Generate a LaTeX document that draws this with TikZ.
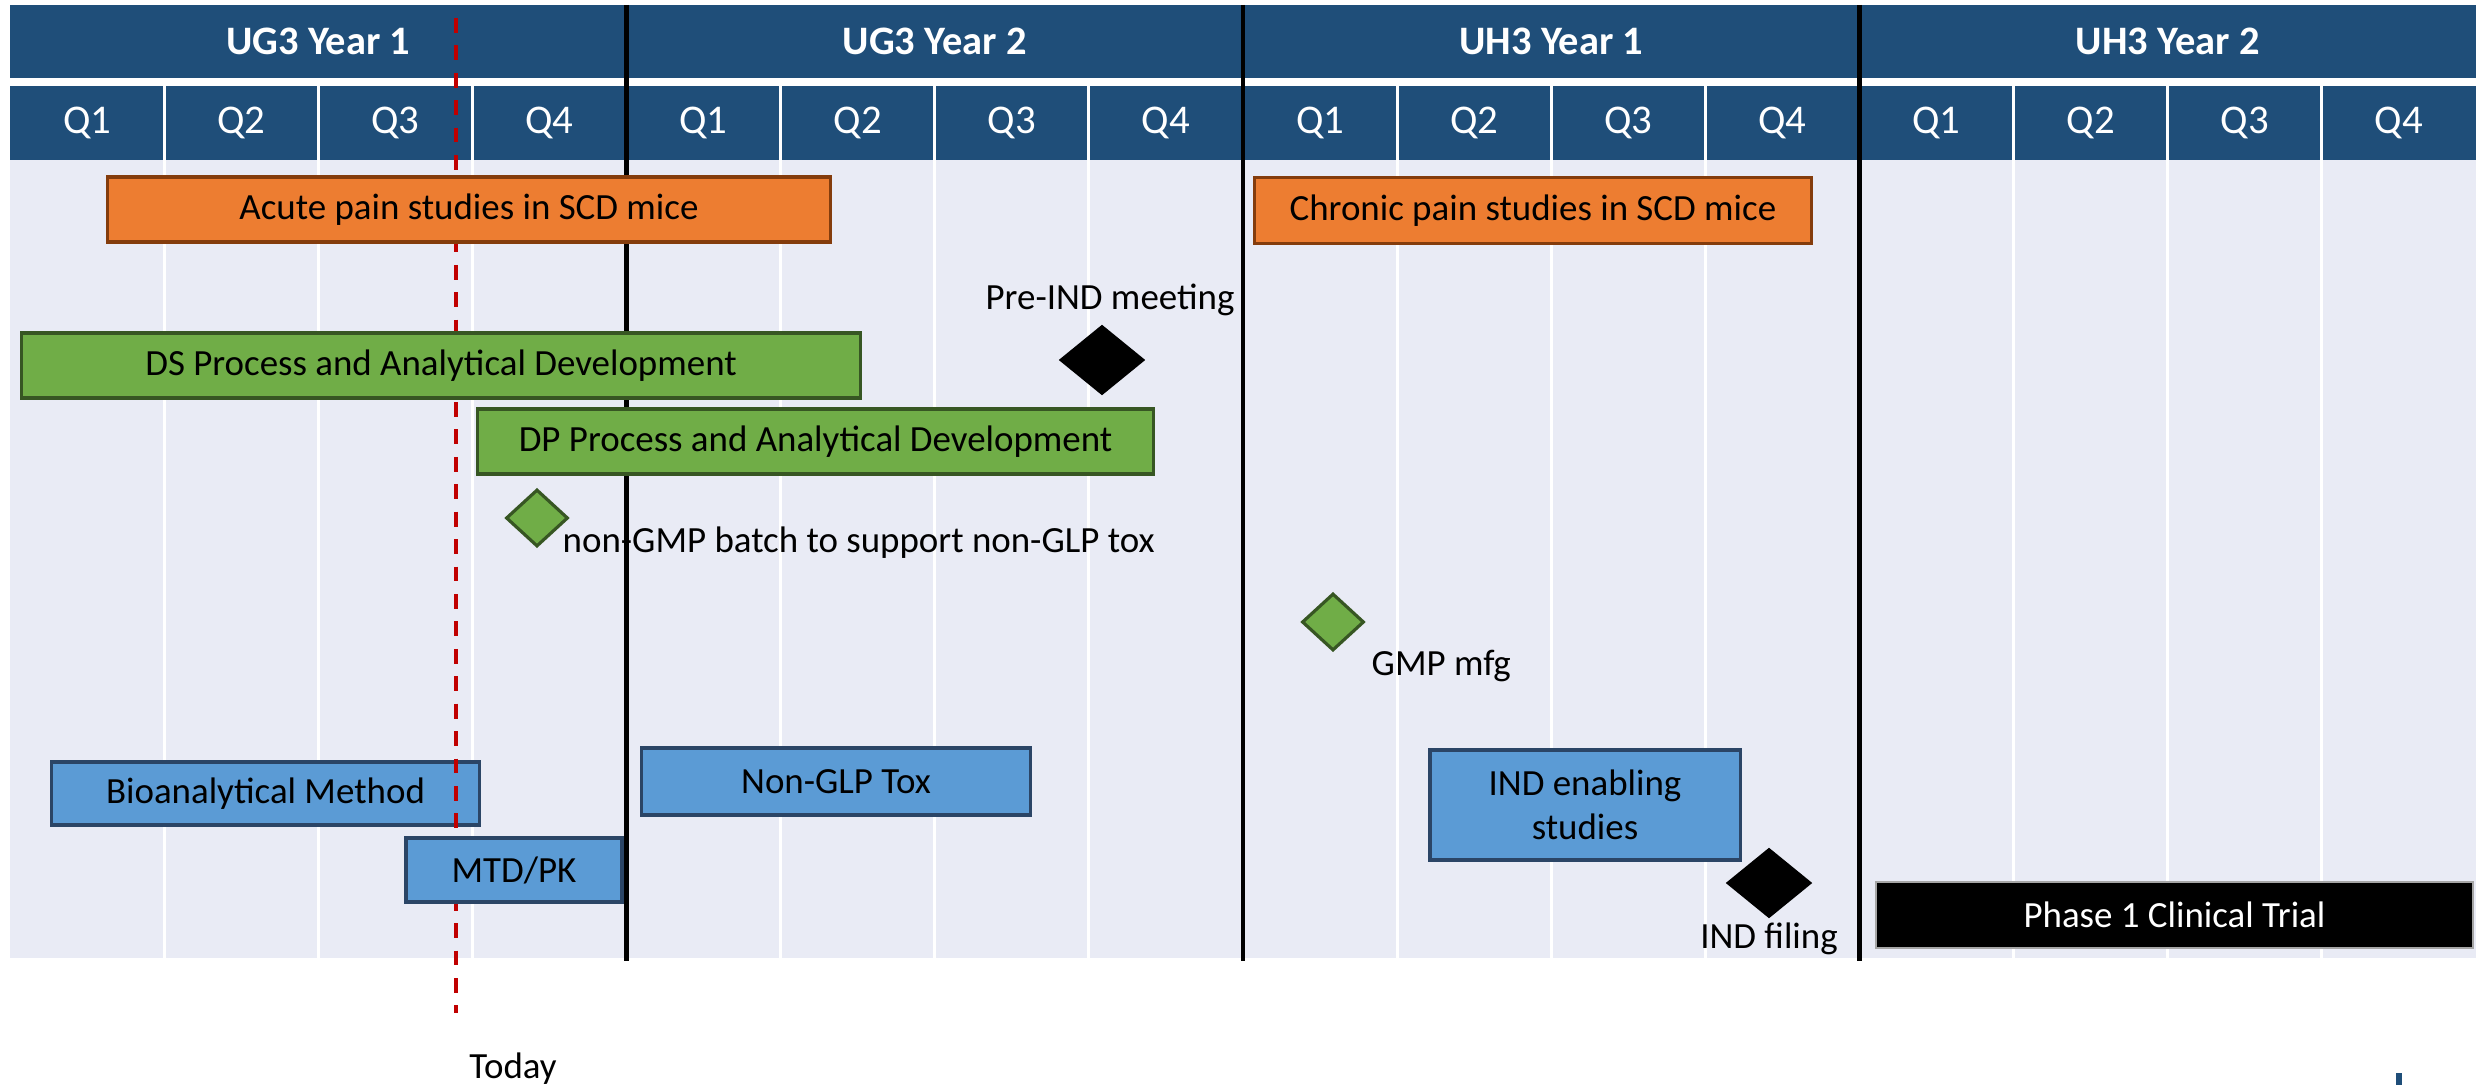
\documentclass[tikz,border=0pt]{standalone}
\usepackage{fontspec}
\setmainfont{Carlito}
\usetikzlibrary{shapes.geometric}

\definecolor{hdrblue}{HTML}{1F4E79}
\definecolor{chartbg}{HTML}{E9EBF5}
\definecolor{barorange}{HTML}{ED7D31}
\definecolor{barorangeedge}{HTML}{843C0C}
\definecolor{bargreen}{HTML}{70AD47}
\definecolor{bargreenedge}{HTML}{375623}
\definecolor{barblue}{HTML}{5B9BD5}
\definecolor{barblueedge}{HTML}{2B4566}
\definecolor{todayred}{HTML}{C00000}

\begin{document}
\begin{tikzpicture}[x=0.01cm,y=-0.01cm,
    every node/.style={font=\fontsize{10.5}{12.6}\selectfont},
    hdr/.style={text=white,font=\fontsize{11.5}{13.8}\selectfont\bfseries},
    qtr/.style={text=white,font=\fontsize{11.6}{13.9}\selectfont},
    bar/.style={draw,line width=0.9pt,inner sep=0pt,align=center},
    orangebar/.style={bar,fill=barorange,draw=barorangeedge},
    greenbar/.style={bar,fill=bargreen,draw=bargreenedge},
    bluebar/.style={bar,fill=barblue,draw=barblueedge},
    blackbar/.style={bar,fill=black,draw=black!35,line width=0.6pt,text=white},
    milestone/.style={diamond,inner sep=0pt,fill=black,minimum width=0.87cm,minimum height=0.71cm},
    gmilestone/.style={diamond,inner sep=0pt,fill=bargreen,draw=bargreenedge,line width=0.9pt,minimum width=0.62cm,minimum height=0.57cm},
    yearline/.style={line width=1.4pt},
    todayline/.style={todayred,line width=1.1pt,dash pattern=on 4.2pt off 3.6pt}]
\useasboundingbox (0,0) rectangle (2484,1085);

% header and chart area
\fill[hdrblue] (10,5) rectangle (2476,78);
\fill[hdrblue] (10,86) rectangle (2476,160);
\fill[chartbg] (10,160) rectangle (2476,958);
\foreach \k in {1,...,15}
    \draw[white,line width=0.9pt] ({10+154.125*\k},86) -- ({10+154.125*\k},958);

\foreach \yr [count=\i from 0] in {UG3 Year 1,UG3 Year 2,UH3 Year 1,UH3 Year 2}
    \node[hdr] (yr\i) at ({318.25+616.5*\i},41) {\yr};
\foreach \k [evaluate=\k as \q using {int(mod(\k,4)+1)}] in {0,...,15}
    \node[qtr] (q\k) at ({87.06+154.125*\k},123) {Q\q};

\foreach \i in {1,2,3}
    \draw[yearline] ({10+616.5*\i},5) -- ({10+616.5*\i},961);

% bars
\node[bluebar,minimum width=4.27cm,minimum height=0.63cm] (bioan) at (265.5,793.5) {Bioanalytical Method};

% today
\coordinate (todaytop) at (456,18);
\coordinate (todaybot) at (456,1013);
\draw[todayline] (todaytop) -- (todaybot);
\node[anchor=base] (today) at (513,1078) {Today};

\node[orangebar,minimum width=7.22cm,minimum height=0.65cm] (acute) at (469,209.5) {Acute pain studies in SCD mice};
\node[orangebar,minimum width=5.56cm,minimum height=0.66cm] (chronic) at (1533,210.5) {Chronic pain studies in SCD mice};
\node[greenbar,minimum width=8.38cm,minimum height=0.65cm] (dsproc) at (441,365.5) {DS Process and Analytical Development};
\node[greenbar,minimum width=6.75cm,minimum height=0.65cm] (dpproc) at (815.5,441.5) {DP Process and Analytical Development};
\node[bluebar,minimum width=2.16cm,minimum height=0.64cm] (mtdpk) at (514,870) {MTD/PK};
\node[bluebar,minimum width=3.88cm,minimum height=0.67cm] (nonglp) at (836,781.5) {Non-GLP Tox};
\node[bluebar,minimum width=3.10cm,minimum height=1.10cm] (indenab) at (1585,805) {IND enabling\\studies};
\node[blackbar,minimum width=5.97cm,minimum height=0.66cm] (phase1) at (2174.5,915) {Phase 1 Clinical Trial};

% milestones
\node[milestone] (preind) at (1102,360) {};
\node[anchor=base] (preindlbl) at (1110,310) {Pre-IND meeting};
\node[gmilestone] (nongmp) at (537,518) {};
\node[anchor=base west,inner sep=0pt] (nongmplbl) at (562,552) {non-GMP batch to support non-GLP tox};
\node[gmilestone] (gmp) at (1333,622) {};
\node[anchor=base west,inner sep=0pt] (gmplbl) at (1371,675) {GMP mfg};
\node[milestone] (indfil) at (1769,883) {};
\node[anchor=base] (indfillbl) at (1769,948) {IND filing};

\fill[hdrblue] (2396,1073) rectangle (2402,1085);
\end{tikzpicture}
\end{document}
